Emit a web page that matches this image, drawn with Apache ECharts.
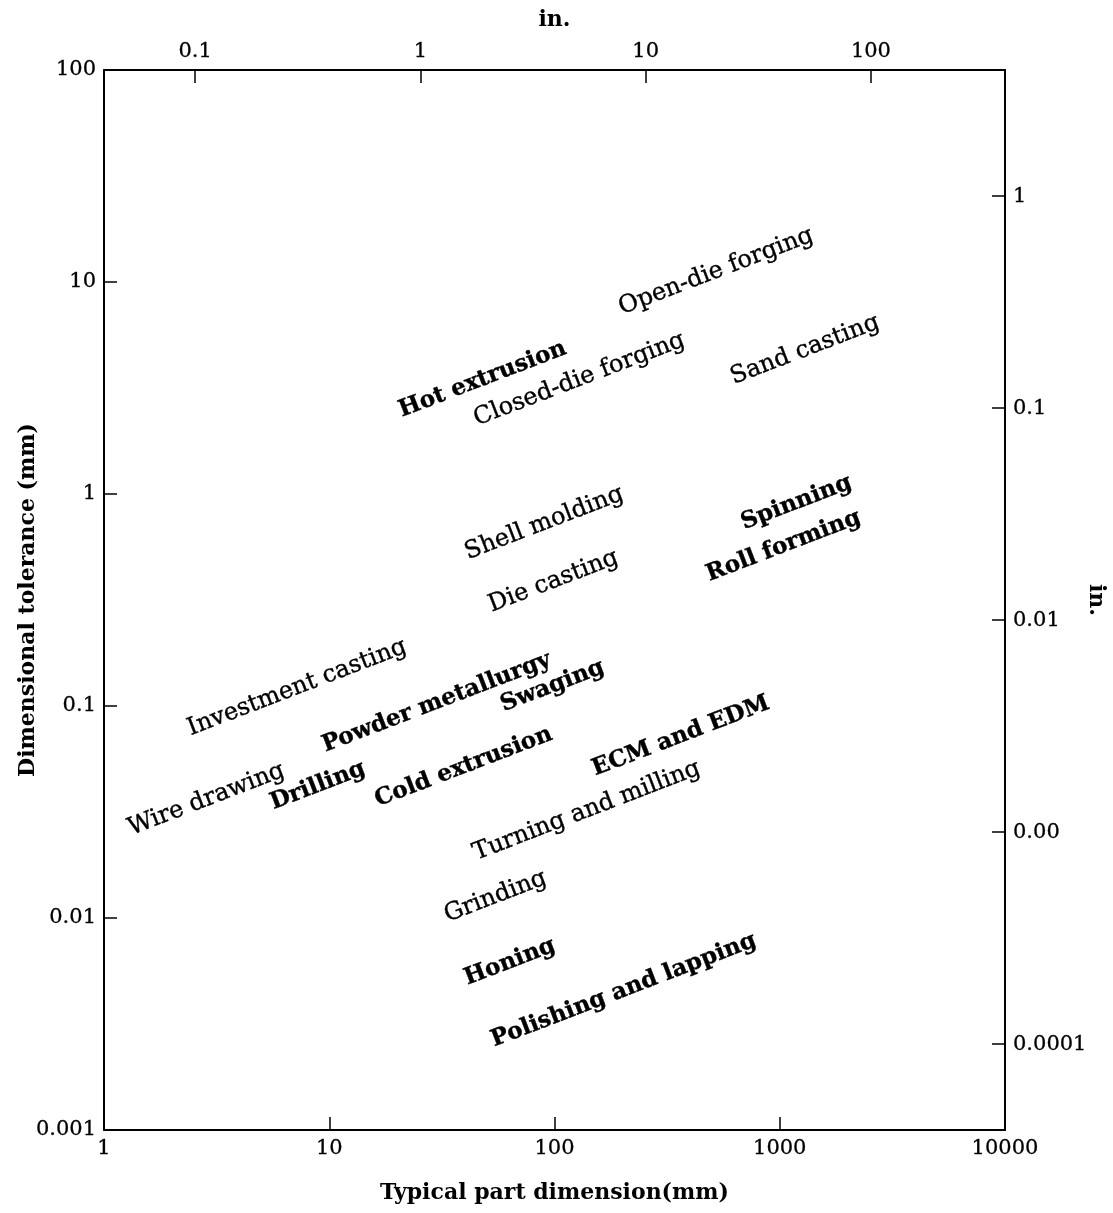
<!DOCTYPE html>
<html><head><meta charset="utf-8">
<script src="https://cdn.jsdelivr.net/npm/echarts@6/dist/echarts.min.js"></script>
<style>html,body{margin:0;padding:0;background:#fff}#c{width:1113px;height:1213px}</style>
</head><body><div id="c"></div>
<script>
// ---- data ----
const processNames = ['Open-die forging','Hot extrusion','Closed-die forging','Sand casting','Shell molding','Die casting','Spinning','Roll forming','Investment casting','Powder metallurgy','Swaging','Wire drawing','Drilling','Cold extrusion','ECM and EDM','Turning and milling','Grinding','Honing','Polishing and lapping'];
const partDimensionMm = [522, 48, 129, 1295, 90, 99, 1186, 1040, 7.2, 30, 98, 2.85, 8.9, 39.5, 364, 139, 54.7, 63.4, 203];
const toleranceMm = [11.2, 3.47, 3.47, 4.78, 0.727, 0.387, 0.909, 0.568, 0.122, 0.1036, 0.124, 0.0362, 0.042, 0.0515, 0.072, 0.032, 0.0126, 0.0062, 0.00455];
const boldLabel = [false, true, false, false, false, false, true, true, false, true, true, false, true, true, true, false, false, true, true];
const xTickLabels = ['1','10','100','1000','10000'];
const yTickLabels = ['0.001','0.01','0.1','1','10','100'];
const topInchTicks = [0.1, 1, 10, 100];
const topInchTickLabels = ['0.1','1','10','100'];
const rightInchTicks = [1, 0.1, 0.01, 0.001, 0.0001];
const rightInchTickLabels = ['1','0.1','0.01','0.00','0.0001'];
const MM_PER_IN = 25.4;

// ---- helpers ----
function lookup(ticks, labels) {
  return function (v) {
    for (let i = 0; i < ticks.length; i++) {
      if (Math.abs(Math.log10(v) - Math.log10(ticks[i])) < 1e-6) return labels[i];
    }
    return '';
  };
}
const FONT = 'DejaVu Serif';
const axisLineStyle = { color: '#000', width: 2 };
const tickStyle = { show: true, inside: true, length: 13, lineStyle: { color: '#000', width: 1.5 } };
const labelStyle = { color: '#000', fontFamily: FONT, fontSize: 21, textBorderColor: '#000', textBorderWidth: 0.3 };
const nameStyle = { color: '#000', fontFamily: FONT, fontSize: 22, fontWeight: 'bold' };

const chart = echarts.init(document.getElementById('c'), null, { renderer: 'canvas' });
chart.setOption({
  backgroundColor: '#fff',
  animation: false,
  grid: { left: 104, right: 108, top: 70, bottom: 83, containLabel: false, outerBoundsMode: 'none' },
  xAxis: [
    {
      type: 'log', position: 'bottom', min: 1, max: 10000, logBase: 10,
      axisLine: { show: true, lineStyle: axisLineStyle },
      axisTick: tickStyle, splitLine: { show: false }, minorTick: { show: false },
      axisLabel: Object.assign({ margin: 8, formatter: v => xTickLabels[Math.round(Math.log10(v))] }, labelStyle),
      name: 'Typical part dimension(mm)', nameLocation: 'middle', nameGap: 52, nameMoveOverlap: false,
      nameTextStyle: nameStyle
    },
    {
      type: 'log', position: 'top', min: 1 / MM_PER_IN, max: 10000 / MM_PER_IN, logBase: 10,
      axisLine: { show: true, lineStyle: axisLineStyle },
      axisTick: Object.assign({ customValues: topInchTicks }, tickStyle), splitLine: { show: false },
      axisLabel: Object.assign({ margin: 8, customValues: topInchTicks, formatter: lookup(topInchTicks, topInchTickLabels) }, labelStyle),
      name: 'in.', nameLocation: 'middle', nameGap: 39, nameMoveOverlap: false,
      nameTextStyle: nameStyle
    }
  ],
  yAxis: [
    {
      type: 'log', position: 'left', min: 0.001, max: 100, logBase: 10,
      axisLine: { show: true, lineStyle: axisLineStyle },
      axisTick: tickStyle, splitLine: { show: false },
      axisLabel: Object.assign({ margin: 8, formatter: v => yTickLabels[Math.round(Math.log10(v)) + 3] }, labelStyle),
      name: 'Dimensional tolerance (mm)', nameLocation: 'middle', nameGap: 65, nameMoveOverlap: false,
      nameTextStyle: nameStyle
    },
    {
      type: 'log', position: 'right', min: 0.001 / MM_PER_IN, max: 100 / MM_PER_IN, logBase: 10,
      axisLine: { show: true, lineStyle: axisLineStyle },
      axisTick: Object.assign({ customValues: rightInchTicks }, tickStyle), splitLine: { show: false },
      axisLabel: Object.assign({ margin: 8, customValues: rightInchTicks, formatter: lookup(rightInchTicks, rightInchTickLabels) }, labelStyle),
      name: 'in.', nameLocation: 'middle', nameGap: 80, nameRotate: -90, nameMoveOverlap: false,
      nameTextStyle: nameStyle
    }
  ],
  series: [{
    type: 'scatter', xAxisIndex: 0, yAxisIndex: 0, silent: true,
    symbolSize: 1, itemStyle: { color: 'rgba(0,0,0,0)', opacity: 1 },
    data: processNames.map((n, i) => ({
      name: n, value: [partDimensionMm[i], toleranceMm[i]],
      label: boldLabel[i] ? { fontWeight: 'bold', fontSize: 23 } : { fontWeight: 'normal', fontSize: 24 }
    })),
    label: {
      show: true, position: 'inside', rotate: 21, formatter: p => p.name, opacity: 1,
      color: '#000', fontFamily: FONT, align: 'center', verticalAlign: 'middle',
      textBorderColor: '#000', textBorderWidth: 0.4
    }
  }]
});
</script></body></html>
